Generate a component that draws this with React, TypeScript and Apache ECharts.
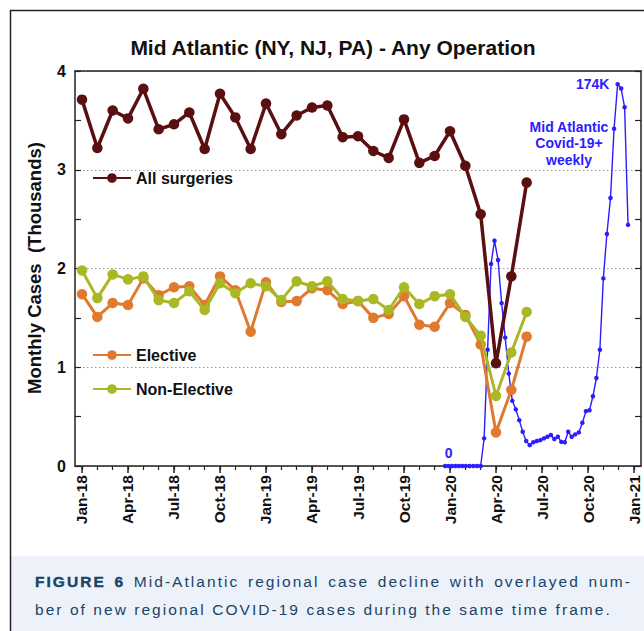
import React, { useEffect, useRef } from "react";
import * as echarts from "echarts";

// ---------- DATA ----------
const xTickLabels = [
  "Jan-18", "Apr-18", "Jul-18", "Oct-18",
  "Jan-19", "Apr-19", "Jul-19", "Oct-19",
  "Jan-20", "Apr-20", "Jul-20", "Oct-20", "Jan-21",
];
const monthlyStart = "2018-01-01";

// Monthly cases (thousands), Jan-18 .. Jun-20
const allSurgeries = [
  3.71, 3.22, 3.6, 3.52, 3.82, 3.41, 3.46, 3.58, 3.21, 3.77, 3.53, 3.21,
  3.67, 3.36, 3.55, 3.63, 3.65, 3.33, 3.34, 3.19, 3.12, 3.51, 3.07, 3.14,
  3.39, 3.04, 2.55, 1.04, 1.92, 2.87,
];
const elective = [
  1.74, 1.51, 1.65, 1.63, 1.9, 1.73, 1.81, 1.82, 1.63, 1.92, 1.78, 1.36,
  1.86, 1.66, 1.67, 1.8, 1.78, 1.64, 1.67, 1.5, 1.54, 1.72, 1.43, 1.41,
  1.65, 1.53, 1.23, 0.34, 0.77, 1.31,
];
const nonElective = [
  1.98, 1.7, 1.94, 1.89, 1.92, 1.68, 1.65, 1.77, 1.58, 1.85, 1.75, 1.85,
  1.82, 1.68, 1.87, 1.82, 1.87, 1.69, 1.67, 1.69, 1.58, 1.81, 1.64, 1.72,
  1.74, 1.51, 1.32, 0.71, 1.15, 1.56,
];

// Weekly new COVID-19 cases, Mid Atlantic (thousands), weeks from 2019-12-22
const covidWeekStart = "2019-12-22";
const covidWeeklyK = [
  0, 0, 0, 0, 0, 0, 0, 0, 0, 0, 0,
  12.6, 53.0, 92.1, 102.7, 93.9, 74.2, 58.5, 42.1, 29.7, 25.8, 20.9, 15.6,
  11.4, 9.5, 10.8, 11.4, 11.8, 12.6, 13.3, 14.1, 12.3, 13.3, 11.0, 10.8,
  15.6, 13.3, 14.4, 15.3, 19.7, 25.0, 25.4, 31.8, 40.1, 53.0, 85.5, 105.7,
  122.1, 153.7, 174.0, 172.0, 163.5, 109.9,
];
const covidPeakLabel = "174K";
const covidZeroLabel = "0";

const seriesNames = ["All surgeries", "Elective", "Non-Elective"];
const titleText = "Mid Atlantic (NY, NJ, PA) - Any Operation";
const yAxisTitle = "Monthly Cases  (Thousands)";
const covidNote = "Mid Atlantic\nCovid-19+\nweekly";
const captionBold = "FIGURE 6";
const captionLine1 = "Mid-Atlantic regional case decline with overlayed num-";
const captionLine2 = "ber of new regional COVID-19 cases during the same time frame.";

// ---------- HELPERS ----------
function monthIndex(dateStr: string): number {
  const [y, m, d] = dateStr.split("-").map(Number);
  const dim = new Date(Date.UTC(y, m, 0)).getUTCDate();
  const [y0, m0] = monthlyStart.split("-").map(Number);
  return (y - y0) * 12 + (m - m0) + (d - 1) / dim;
}
function addDays(dateStr: string, n: number): string {
  const dt = new Date(dateStr + "T00:00:00Z");
  dt.setUTCDate(dt.getUTCDate() + n);
  return dt.toISOString().slice(0, 10);
}

const COLORS = {
  all: "#5a0f10",
  elective: "#e07a2e",
  nonElective: "#a9b824",
  covid: "#2c1cff",
  axis: "#222",
  caption: "#1a4364",
};

const FONT = '"Liberation Sans", Arial, Helvetica, sans-serif';

export default function App() {
  const ref = useRef<HTMLDivElement>(null);

  useEffect(() => {
    if (!ref.current) return;
    const chart = echarts.init(ref.current, undefined, { renderer: "svg" });

    const allMonths = Array.from({ length: 37 }, (_, i) => i);
    const quarterMonths = xTickLabels.map((_, i) => i * 3);

    const peakIdx = covidWeeklyK.indexOf(Math.max(...covidWeeklyK));
    const covidData = covidWeeklyK.map((v, i) => {
      const item: any = { value: [monthIndex(addDays(covidWeekStart, i * 7)), v] };
      if (i === peakIdx) {
        item.label = {
          show: true,
          formatter: covidPeakLabel,
          position: "left",
          distance: 6,
          color: COLORS.covid,
          fontWeight: "bold",
          fontSize: 14,
          fontFamily: FONT,
        };
      }
      if (i === 1) {
        item.label = {
          show: true,
          formatter: covidZeroLabel,
          position: "top",
          distance: 4,
          color: COLORS.covid,
          fontWeight: "bold",
          fontSize: 14,
          fontFamily: FONT,
        };
      }
      return item;
    });

    const monthly = (arr: number[]) => arr.map((v, i) => [i, v]);

    const xMin = -0.4565;
    const xMax = 36.4565;

    const monthlySeries = (name: string, data: number[], color: string, z: number, lw: number) => ({
      type: "line",
      name,
      data: monthly(data),
      xAxisIndex: 0,
      yAxisIndex: 0,
      symbol: "circle",
      symbolSize: 10.5,
      itemStyle: { color },
      lineStyle: { color, width: lw },
      z,
    });

    const legendCommon = {
      padding: 0,
      itemWidth: 38,
      itemHeight: 12,
      itemGap: 6,
      textStyle: { fontSize: 16, fontWeight: "bold", color: "#111", fontFamily: FONT },
    };

    chart.setOption({
      animation: false,
      backgroundColor: "#fff",
      textStyle: { fontFamily: FONT },
      grid: { left: 75, top: 71, width: 566, height: 395 },
      legend: [
        { ...legendCommon, data: [seriesNames[0]], left: 92, top: 170 },
        { ...legendCommon, data: [seriesNames[1]], left: 92, top: 347 },
        { ...legendCommon, data: [seriesNames[2]], left: 92, top: 381 },
      ],
      xAxis: [
        {
          type: "value",
          min: xMin,
          max: xMax,
          position: "bottom",
          axisLine: { show: true, onZero: false, lineStyle: { color: COLORS.axis, width: 1.5 } },
          axisTick: { show: true, inside: false, length: 4, customValues: allMonths, lineStyle: { color: COLORS.axis, width: 1.2 } },
          axisLabel: {
            show: true,
            customValues: quarterMonths,
            rotate: 90,
            margin: 9,
            fontSize: 15.5,
            fontWeight: "bold",
            color: "#111",
            fontFamily: FONT,
            formatter: (v: number) => xTickLabels[Math.round(v / 3)] ?? "",
          },
          splitLine: { show: false },
        },
        {
          type: "value",
          min: xMin,
          max: xMax,
          position: "bottom",
          axisLine: { show: false },
          axisTick: { show: true, inside: false, length: 7, customValues: quarterMonths, lineStyle: { color: COLORS.axis, width: 1.5 } },
          axisLabel: { show: false },
          splitLine: { show: false },
        },
        {
          type: "value",
          min: xMin,
          max: xMax,
          position: "top",
          axisLine: { show: true, onZero: false, lineStyle: { color: COLORS.axis, width: 1.5 } },
          axisTick: { show: false },
          axisLabel: { show: false },
          splitLine: { show: false },
        },
      ],
      yAxis: [
        {
          type: "value",
          min: 0,
          max: 4,
          interval: 0.5,
          position: "left",
          axisLine: { show: true, onZero: false, lineStyle: { color: COLORS.axis, width: 1.5 } },
          axisTick: { show: true, inside: true, length: 6, lineStyle: { color: COLORS.axis, width: 1.2 } },
          axisLabel: {
            show: true,
            margin: 9,
            fontSize: 16,
            fontWeight: "bold",
            color: "#111",
            fontFamily: FONT,
            formatter: (v: number) => (Number.isInteger(v) ? String(v) : ""),
          },
          splitLine: { show: false },
        },
        {
          type: "value",
          min: 0,
          max: 4,
          interval: 0.5,
          position: "right",
          axisLine: { show: true, onZero: false, lineStyle: { color: COLORS.axis, width: 1.5 } },
          axisTick: { show: true, inside: true, length: 6, lineStyle: { color: COLORS.axis, width: 1.2 } },
          axisLabel: { show: false },
          splitLine: { show: false },
        },
        {
          type: "value",
          min: 0,
          max: 4,
          interval: 1,
          position: "left",
          axisLine: { show: false },
          axisTick: { show: false },
          axisLabel: { show: false },
          splitLine: { show: true, lineStyle: { color: "#9a9a9a", type: [1.5, 2.5], width: 1 } },
        },
        {
          type: "value",
          min: 0,
          max: 180,
          show: false,
        },
      ],
      series: [
        {
          type: "line",
          name: "Covid weekly",
          data: covidData,
          xAxisIndex: 0,
          yAxisIndex: 3,
          symbol: "circle",
          symbolSize: 4.5,
          itemStyle: { color: COLORS.covid },
          lineStyle: { color: COLORS.covid, width: 1.4 },
          z: 2,
        },
        monthlySeries(seriesNames[1], elective, COLORS.elective, 3, 3),
        monthlySeries(seriesNames[2], nonElective, COLORS.nonElective, 4, 3),
        monthlySeries(seriesNames[0], allSurgeries, COLORS.all, 5, 3.5),
      ],
      graphic: [
        {
          type: "rect",
          silent: true,
          z: -10,
          shape: { x: 11, y: 556, width: 640, height: 80 },
          style: { fill: "#edf2fa" },
        },
        {
          type: "rect",
          silent: true,
          z: 10,
          shape: { x: 10.5, y: 10.5, width: 900, height: 900 },
          style: { fill: "none", stroke: "#222", lineWidth: 1.5 },
        },
        {
          type: "text",
          x: 333,
          y: 47,
          style: {
            text: titleText,
            fontSize: 21,
            fontWeight: "bold",
            fontFamily: FONT,
            fill: "#111",
            align: "center",
            verticalAlign: "middle",
          },
        },
        {
          type: "text",
          x: 34,
          y: 268,
          rotation: Math.PI / 2,
          style: {
            text: yAxisTitle,
            fontSize: 18.5,
            fontWeight: "bold",
            fontFamily: FONT,
            fill: "#111",
            align: "center",
            verticalAlign: "middle",
          },
        },
        {
          type: "text",
          x: 569,
          y: 143,
          style: {
            text: covidNote,
            fontSize: 14,
            fontWeight: "bold",
            fontFamily: FONT,
            fill: COLORS.covid,
            align: "center",
            verticalAlign: "middle",
            lineHeight: 16.5,
          },
        },
      ],
    });

    return () => chart.dispose();
  }, []);

  return (
    <div style={{ position: "fixed", left: 0, top: 0, width: 644, height: 631, overflow: "hidden", background: "#fff" }}>
      <div ref={ref} style={{ position: "absolute", left: 0, top: 0, width: 644, height: 631 }} />
      <div
        style={{
          position: "absolute",
          left: 35,
          top: 568,
          width: 597,
          fontFamily: FONT,
          fontSize: 15.5,
          letterSpacing: "2.05px",
          lineHeight: "28px",
          color: COLORS.caption,
          whiteSpace: "nowrap",
        }}
      >
        <div style={{ textAlign: "justify", textAlignLast: "justify" as any }}>
          <span style={{ fontWeight: 900, WebkitTextStroke: "0.4px " + COLORS.caption }}>{captionBold}</span> {captionLine1}
        </div>
        <div>{captionLine2}</div>
      </div>
    </div>
  );
}
